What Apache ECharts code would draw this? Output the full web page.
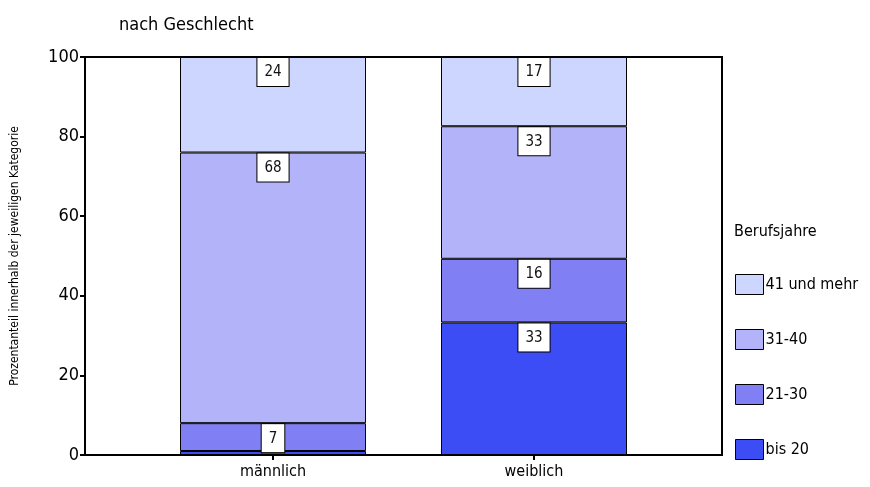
<!DOCTYPE html>
<html>
<head>
<meta charset="utf-8">
<script src="https://cdn.jsdelivr.net/npm/echarts@6/dist/echarts.min.js"></script>
<style>
  html, body { margin: 0; padding: 0; background: #fff; }
  #chart { width: 870px; height: 487px; }
</style>
</head>
<body>
<div id="chart"></div>
<script>
// Anteil der Berufsjahre-Gruppen nach Geschlecht (in %)
const categories = ['männlich', 'weiblich'];
const groups = ['bis 20', '21-30', '31-40', '41 und mehr'];
const bis20 = [1, 33.3];
const jahre21_30 = [7, 16.0];
const jahre31_40 = [68, 33.3];
const ab41 = [24, 17.4];
const yTicks = [0, 20, 40, 60, 80, 100];

const seriesValues = [bis20, jahre21_30, jahre31_40, ab41];
const colors = ['#3d4df6', '#8080f4', '#b3b3f9', '#ccd6ff'];
const FONT = '"Liberation Sans Narrow", "DejaVu Sans Condensed", "Roboto", sans-serif';

const chart = echarts.init(document.getElementById('chart'), null, { renderer: 'canvas' });

const labelStyle = {
  show: true,
  position: 'insideTop',
  distance: 1,
  formatter: p => String(Math.round(p.value)),
  fontFamily: FONT,
  fontSize: 15,
  color: '#111',
  backgroundColor: '#fff',
  borderColor: '#000',
  borderWidth: 1,
  padding: [7, 7, 6, 7]
};

const series = groups.map((name, i) => ({
  name: name,
  type: 'bar',
  stack: 'total',
  xAxisIndex: 1,
  yAxisIndex: 1,
  barWidth: 186,
  // segments too thin for a value box carry no label
  data: seriesValues[i].map(v => ({ value: v, label: { show: v >= 3 } })),
  itemStyle: { color: colors[i], borderColor: '#000', borderWidth: 1 },
  label: labelStyle,
  emphasis: { disabled: true }
}));

chart.setOption({
  animation: false,
  title: [
    {
      text: 'nach Geschlecht',
      left: 114, top: 11,
      textStyle: { fontFamily: FONT, fontSize: 18, fontWeight: 'normal', color: '#000' }
    },
    {
      text: 'Berufsjahre',
      left: 729, top: 219,
      textStyle: { fontFamily: FONT, fontSize: 16, fontWeight: 'normal', color: '#000' }
    }
  ],
  legend: {
    orient: 'vertical',
    left: 735, top: 274,
    padding: 0,
    icon: 'rect',
    itemWidth: 28, itemHeight: 20, itemGap: 34,
    data: ['41 und mehr', '31-40', '21-30', 'bis 20'],
    itemStyle: { borderColor: '#000', borderWidth: 1 },
    textStyle: { fontFamily: FONT, fontSize: 16, color: '#000', padding: [0, 0, 0, -3] },
    selectedMode: false
  },
  grid: [
    { left: 85, top: 57, right: 148, bottom: 32, show: true, borderColor: '#000', borderWidth: 2, backgroundColor: 'transparent' },
    { left: 142.5, top: 57, width: 522, bottom: 32 }
  ],
  xAxis: [
    {
      gridIndex: 0, type: 'value', min: 0, max: 1,
      axisLine: { show: true, lineStyle: { color: '#000', width: 2 } },
      axisTick: { show: false }, axisLabel: { show: false }, splitLine: { show: false }
    },
    {
      gridIndex: 1, type: 'category', data: categories,
      axisLine: { show: false },
      axisTick: { show: true, alignWithLabel: true, length: 5, lineStyle: { color: '#000', width: 2 } },
      axisLabel: { fontFamily: FONT, fontSize: 16, color: '#000', margin: 9 }
    }
  ],
  yAxis: [
    {
      gridIndex: 0, type: 'value', min: 0, max: 100, interval: 20,
      name: 'Prozentanteil innerhalb der jeweiligen Kategorie',
      nameLocation: 'middle', nameGap: 64,
      nameTextStyle: { fontFamily: FONT, fontSize: 12, color: '#000' },
      axisLine: { show: true, lineStyle: { color: '#000', width: 2 } },
      axisTick: { show: true, length: 5, lineStyle: { color: '#000', width: 2 } },
      axisLabel: {
        fontFamily: FONT, fontSize: 18, color: '#000', margin: 6,
        formatter: v => (yTicks.includes(v) ? String(v) : '')
      },
      splitLine: { show: false }
    },
    {
      gridIndex: 1, type: 'value', min: 0, max: 100,
      show: false, splitLine: { show: false }
    }
  ],
  series: series
});
</script>
</body>
</html>
